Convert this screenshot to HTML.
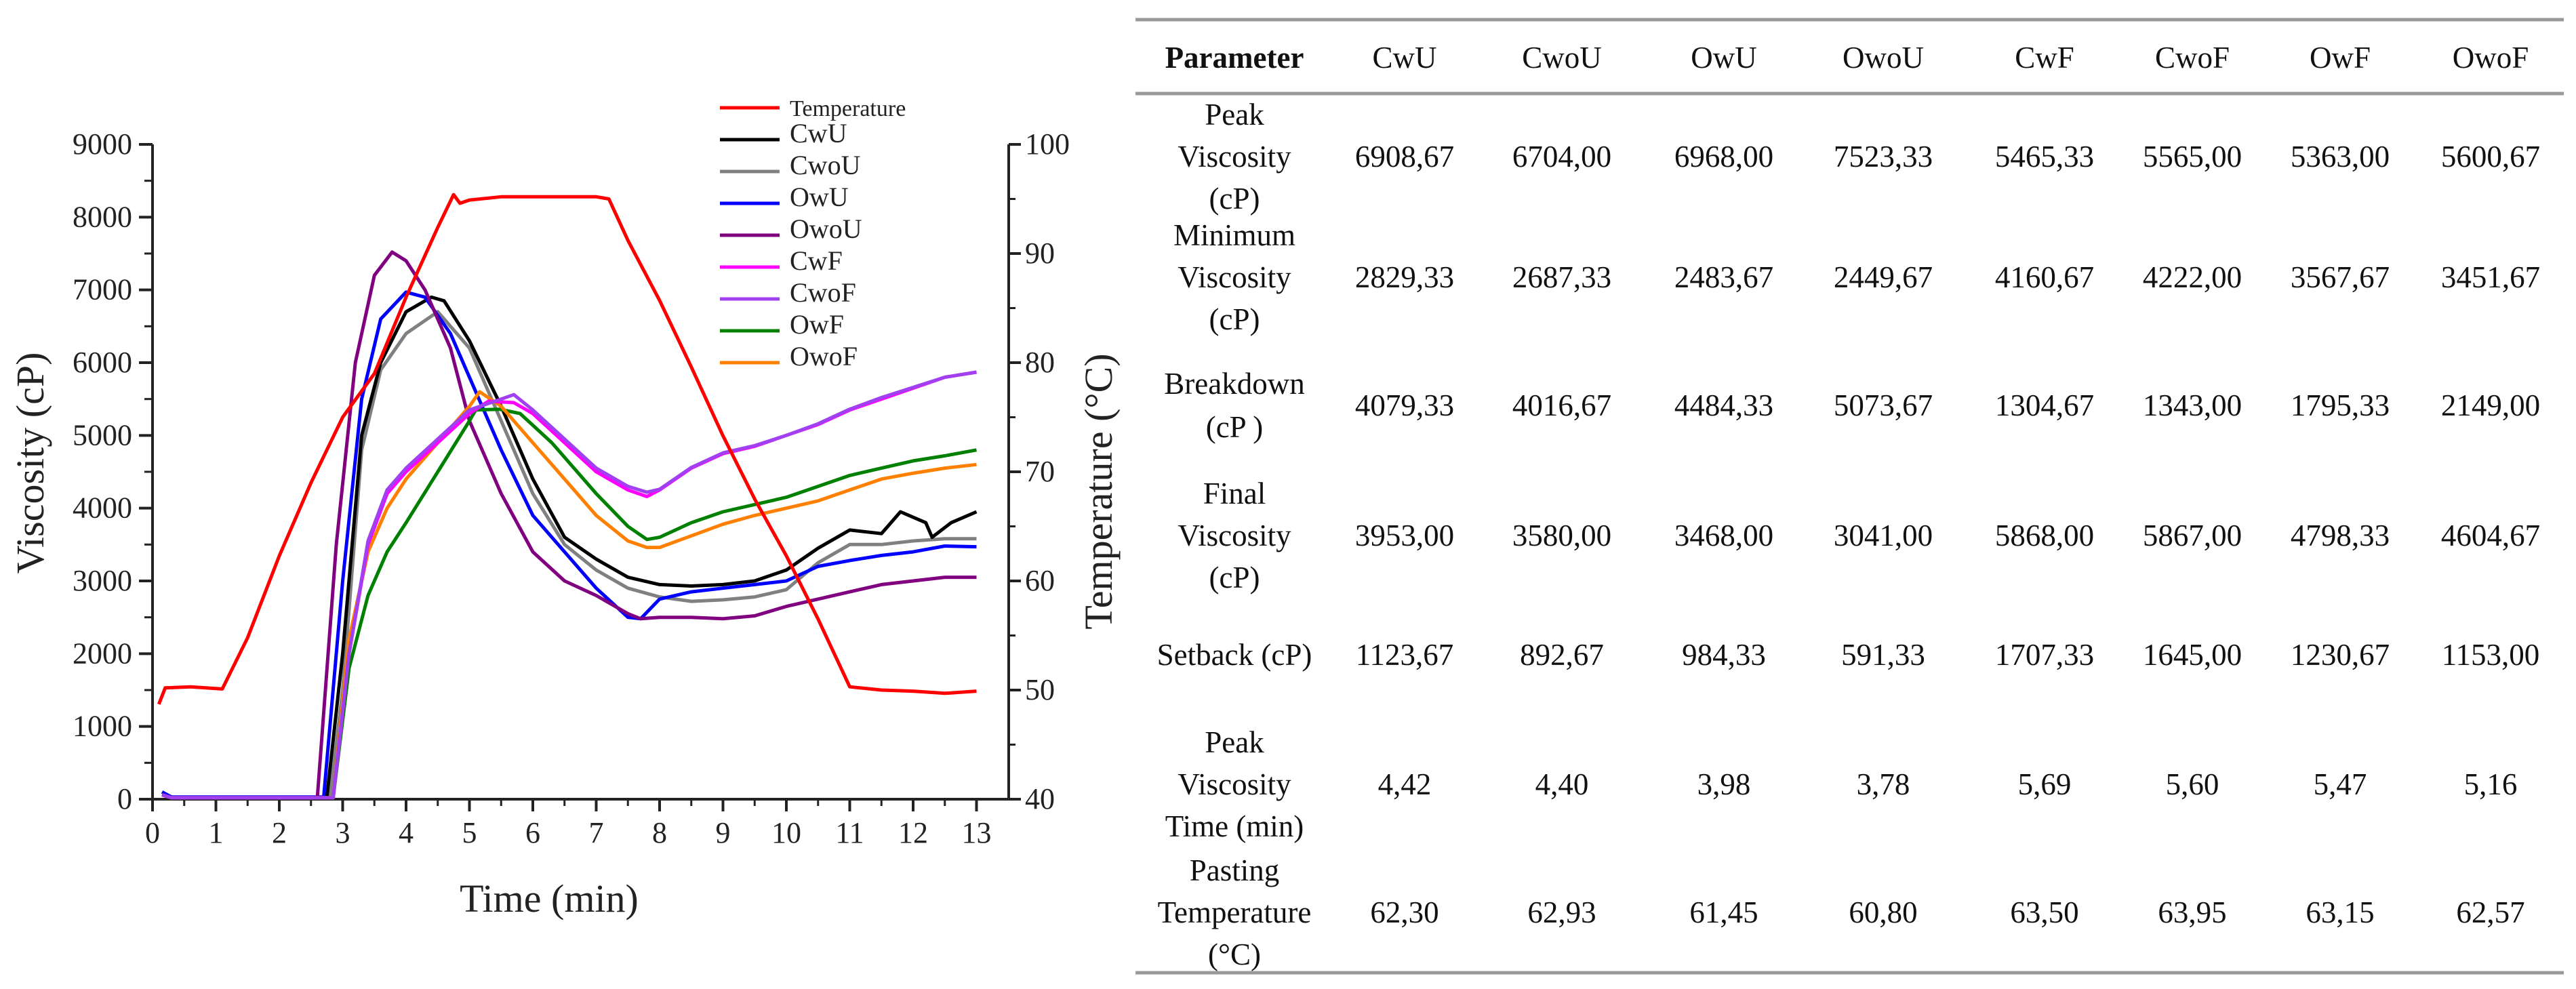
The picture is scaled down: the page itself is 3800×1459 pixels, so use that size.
<!DOCTYPE html>
<html><head><meta charset="utf-8"><style>
html,body{margin:0;padding:0;background:#fff;}
svg{display:block;font-family:"Liberation Serif",serif;}
</style></head><body>
<svg id="root" width="3800" height="1459" viewBox="0 0 3800 1459">
<g id="chart"></g>
<g id="table"></g>
</svg>
<script>
// ---- chart data ----
const tempT = [0.1,0.2,0.6,1.1,1.5,2.0,2.5,3.0,3.5,4.0,4.5,4.75,4.85,5.0,5.5,7.0,7.2,7.5,8.0,8.5,9.0,9.5,10.0,10.5,11.0,11.5,12.0,12.5,13.0];
const tempV = [48.7,50.2,50.3,50.1,54.8,62.3,69,75,79,86,92.4,95.4,94.6,94.9,95.2,95.2,95.0,91.2,85.7,79.6,73.3,67.5,62.3,56.5,50.3,50.0,49.9,49.7,49.9];
const cwuT = [0.15,0.3,2.75,3.0,3.3,3.6,4.0,4.4,4.6,5.0,5.5,6.0,6.5,7.0,7.5,8.0,8.5,9.0,9.5,10.0,10.5,11.0,11.5,11.8,12.2,12.3,12.6,13.0];
const cwuV = [60,20,20,2000,5000,6000,6700,6900,6850,6300,5400,4400,3600,3300,3050,2950,2930,2950,3000,3150,3450,3700,3650,3950,3800,3600,3800,3950];
const cwouT = [0.15,0.3,2.8,3.0,3.3,3.6,4.0,4.5,5.0,5.5,6.0,6.5,7.0,7.5,8.0,8.5,9.0,9.5,10.0,10.5,11.0,11.5,12.0,12.5,13.0];
const cwouV = [60,20,20,1500,4800,5900,6400,6700,6200,5200,4200,3500,3150,2900,2780,2720,2740,2780,2880,3250,3500,3500,3550,3580,3580];
const owuT = [0.15,0.3,2.7,3.0,3.3,3.6,4.0,4.3,4.7,5.0,5.5,6.0,6.5,7.0,7.5,7.7,8.0,8.5,9.0,9.5,10.0,10.5,11.0,11.5,12.0,12.5,13.0];
const owuV = [100,30,30,3000,5500,6600,6970,6900,6400,5800,4800,3900,3400,2900,2500,2480,2750,2850,2900,2950,3000,3200,3280,3350,3400,3480,3470];
const owouT = [0.15,0.3,2.6,2.9,3.2,3.5,3.78,4.0,4.3,4.7,5.0,5.5,6.0,6.5,7.0,7.5,7.7,8.0,8.5,9.0,9.5,10.0,10.5,11.0,11.5,12.0,12.5,13.0];
const owouV = [60,20,20,3500,6000,7200,7520,7400,7000,6200,5200,4200,3400,3000,2800,2550,2480,2500,2500,2480,2520,2650,2750,2850,2950,3000,3050,3050];
const cwfT = [0.15,0.3,2.85,3.1,3.4,3.7,4.0,4.5,5.0,5.3,5.7,6.0,6.5,7.0,7.5,7.8,8.0,8.5,9.0,9.5,10.0,10.5,11.0,11.5,12.0,12.5,13.0];
const cwfV = [60,20,20,2000,3500,4200,4500,4900,5300,5470,5450,5300,4900,4500,4250,4160,4250,4550,4750,4850,5000,5150,5350,5500,5650,5800,5870];
const cwofT = [0.15,0.3,2.85,3.1,3.4,3.7,4.0,4.5,5.0,5.5,5.7,6.0,6.5,7.0,7.5,7.8,8.0,8.5,9.0,9.5,10.0,10.5,11.0,11.5,12.0,12.5,13.0];
const cwofV = [60,20,20,2000,3550,4250,4550,4950,5350,5500,5560,5350,4950,4550,4300,4220,4260,4560,4760,4860,5000,5160,5360,5520,5660,5800,5870];
const owfT = [0.15,0.3,2.85,3.1,3.4,3.7,4.0,4.5,5.0,5.1,5.47,5.8,6.3,7.0,7.5,7.8,8.0,8.5,9.0,9.5,10.0,10.5,11.0,11.5,12.0,12.5,13.0];
const owfV = [60,20,20,1800,2800,3400,3800,4500,5200,5350,5360,5300,4900,4200,3750,3570,3600,3800,3950,4050,4150,4300,4450,4550,4650,4720,4800];
const owofT = [0.15,0.3,2.85,3.1,3.4,3.7,4.0,4.5,5.0,5.16,5.5,6.0,6.5,7.0,7.5,7.8,8.0,8.5,9.0,9.5,10.0,10.5,11.0,11.5,12.0,12.5,13.0];
const owofV = [60,20,20,2200,3400,4000,4400,4900,5400,5600,5400,4900,4400,3900,3550,3460,3460,3620,3780,3900,4000,4100,4250,4400,4480,4550,4600];
const xTicks = [0,1,2,3,4,5,6,7,8,9,10,11,12,13];
const yTicks = [0,1000,2000,3000,4000,5000,6000,7000,8000,9000];
const y2Ticks = [40,50,60,70,80,90,100];
const seriesNames = ["CwU","CwoU","OwU","OwoU","CwF","CwoF","OwF","OwoF"];
// ---- table data ----
const tableCols = ["CwU","CwoU","OwU","OwoU","CwF","CwoF","OwF","OwoF"];
const rowPeak = ["6908,67","6704,00","6968,00","7523,33","5465,33","5565,00","5363,00","5600,67"];
const rowMin = ["2829,33","2687,33","2483,67","2449,67","4160,67","4222,00","3567,67","3451,67"];
const rowBreak = ["4079,33","4016,67","4484,33","5073,67","1304,67","1343,00","1795,33","2149,00"];
const rowFinal = ["3953,00","3580,00","3468,00","3041,00","5868,00","5867,00","4798,33","4604,67"];
const rowSetback = ["1123,67","892,67","984,33","591,33","1707,33","1645,00","1230,67","1153,00"];
const rowPVT = ["4,42","4,40","3,98","3,78","5,69","5,60","5,47","5,16"];
const rowPT = ["62,30","62,93","61,45","60,80","63,50","63,95","63,15","62,57"];

const NS="http://www.w3.org/2000/svg";
function mk(parent,tag,attrs,text){const e=document.createElementNS(NS,tag);for(const k in attrs)e.setAttribute(k,attrs[k]);if(text!==undefined)e.textContent=text;parent.appendChild(e);return e;}
const X0=225,XS=93.5,Y0=1179,YS=(1179-213)/9000,T0=40,TS=(1179-213)/60;
const sx=t=>X0+t*XS, sy=v=>Y0-v*YS, sy2=v=>Y0-(v-T0)*TS;
const chart=document.getElementById('chart');

// axes
let ax=mk(chart,'path',{d:`M${X0},${sy(9000)} V${Y0} H1488 V${sy2(100)}`,fill:'none',stroke:'#222','stroke-width':4});


mk(chart,'line',{x1:X0-20,y1:sy(9000),x2:X0,y2:sy(9000),stroke:'#222','stroke-width':4});
xTicks.forEach(t=>{
  let l=mk(chart,'line',{x1:sx(t),y1:Y0,x2:sx(t),y2:Y0+18,stroke:'#222','stroke-width':4});
  
  
  if(t<13) mk(chart,'line',{x1:sx(t+0.5),y1:Y0,x2:sx(t+0.5),y2:Y0+10,stroke:'#222','stroke-width':3});
  let tx=mk(chart,'text',{x:sx(t),y:Y0+64,'font-size':44,'text-anchor':'middle',fill:'#222'},String(t));
  
  
});
yTicks.forEach(v=>{
  let l=mk(chart,'line',{x1:X0-20,y1:sy(v),x2:X0,y2:sy(v),stroke:'#222','stroke-width':4});
  
  
  if(v<9000) mk(chart,'line',{x1:X0-12,y1:sy(v+500),x2:X0,y2:sy(v+500),stroke:'#222','stroke-width':3});
  let tx=mk(chart,'text',{x:X0-30,y:sy(v)+14,'font-size':44,'text-anchor':'end',fill:'#222'},String(v));
  
  
});
y2Ticks.forEach(v=>{
  let l=mk(chart,'line',{x1:1488,y1:sy2(v),x2:1506,y2:sy2(v),stroke:'#222','stroke-width':4});
  
  
  if(v<100) mk(chart,'line',{x1:1488,y1:sy2(v+5),x2:1498,y2:sy2(v+5),stroke:'#222','stroke-width':3});
  let tx=mk(chart,'text',{x:1512,y:sy2(v)+14,'font-size':44,'text-anchor':'start',fill:'#222'},String(v));
  
  
});
let xt=mk(chart,'text',{x:810,y:1345,'font-size':58,'text-anchor':'middle',fill:'#222'},'Time (min)');


let yt=mk(chart,'text',{x:0,y:0,'font-size':58,'text-anchor':'middle',fill:'#222',transform:'translate(64,683) rotate(-90)'},'Viscosity (cP)');


let y2t=mk(chart,'text',{x:0,y:0,'font-size':58,'text-anchor':'middle',fill:'#222',transform:'translate(1640,725) rotate(-90)'},'Temperature (°C)');



const series=[
 ['CwoU',cwouT,cwouV,'#808080'],['CwU',cwuT,cwuV,'#000000'],['OwU',owuT,owuV,'#0000ff'],['OwoU',owouT,owouV,'#800080'],
 ['OwF',owfT,owfV,'#008000'],['OwoF',owofT,owofV,'#ff8000'],['CwF',cwfT,cwfV,'#ff00ff'],['CwoF',cwofT,cwofV,'#a040f0']];
series.forEach(s=>{
  const d=s[1].map((t,i)=>(i?'L':'M')+sx(t).toFixed(1)+','+sy(s[2][i]).toFixed(1)).join(' ');
  let p=mk(chart,'path',{d:d,fill:'none',stroke:s[3],'stroke-width':5,'stroke-linejoin':'round'});
  
  
});
const td=tempT.map((t,i)=>(i?'L':'M')+sx(t).toFixed(1)+','+sy2(tempV[i]).toFixed(1)).join(' ');
let tp=mk(chart,'path',{d:td,fill:'none',stroke:'#ff0000','stroke-width':5,'stroke-linejoin':'round'});



// legend
const legCols={"Temperature":'#ff0000',"CwU":'#000',"CwoU":'#808080',"OwU":'#0000ff',"OwoU":'#800080',"CwF":'#ff00ff',"CwoF":'#a040f0',"OwF":'#008000',"OwoF":'#ff8000'};
const legY=[159,206,253,300,347,394,441,488,535];
["Temperature"].concat(seriesNames).forEach((n,i)=>{
  const g=mk(chart,'g',{});
  
  
  mk(g,'line',{x1:1062,y1:legY[i],x2:1150,y2:legY[i],stroke:legCols[n],'stroke-width':5});
  mk(g,'text',{x:1165,y:legY[i]+(i?4:12),'font-size':i?40:34,fill:'#222'},n);
});

// table
const tbl=document.getElementById('table');
const colX=[1821,2072,2304,2543,2778,3016,3234,3452,3674];
[[29,'table-top-rule'],[138,'table-header-rule'],[1435,'table-bottom-rule']].forEach(r=>{
  let l=mk(tbl,'line',{x1:1675,y1:r[0],x2:3782,y2:r[0],stroke:'#999','stroke-width':5});
  
  
});
let ph=mk(tbl,'text',{x:colX[0],y:100,'font-size':45,'font-weight':'bold','text-anchor':'middle',fill:'#111'},'Parameter');


tableCols.forEach((c,i)=>{
  let t=mk(tbl,'text',{x:colX[i+1],y:100,'font-size':45,'text-anchor':'middle',fill:'#111'},c);
  
  
});
const rows=[
 [['Peak','Viscosity','(cP)'],rowPeak,246],
 [['Minimum','Viscosity','(cP)'],rowMin,424],
 [['Breakdown','(cP )'],rowBreak,613],
 [['Final','Viscosity','(cP)'],rowFinal,805],
 [['Setback  (cP)'],rowSetback,981],
 [['Peak','Viscosity','Time  (min)'],rowPVT,1172],
 [['Pasting','Temperature','(°C)'],rowPT,1361]];
rows.forEach((r,ri)=>{
  const lab=r[0], n=lab.length, base=r[2];
  const startY = n===2 ? base-30 : base-(n-1)/2*62;
  const g=mk(tbl,'g',{});
  
  
  lab.forEach((s,k)=>mk(g,'text',{x:colX[0],y:(n===2? (k===0?base-32:base+32): startY+k*62),'font-size':45,'text-anchor':'middle',fill:'#111'},s));
  r[1].forEach((v,i)=>{
    let t=mk(tbl,'text',{x:colX[i+1],y:base,'font-size':45,'text-anchor':'middle',fill:'#111'},v);
    
    
  });
});
</script>
</body></html>
